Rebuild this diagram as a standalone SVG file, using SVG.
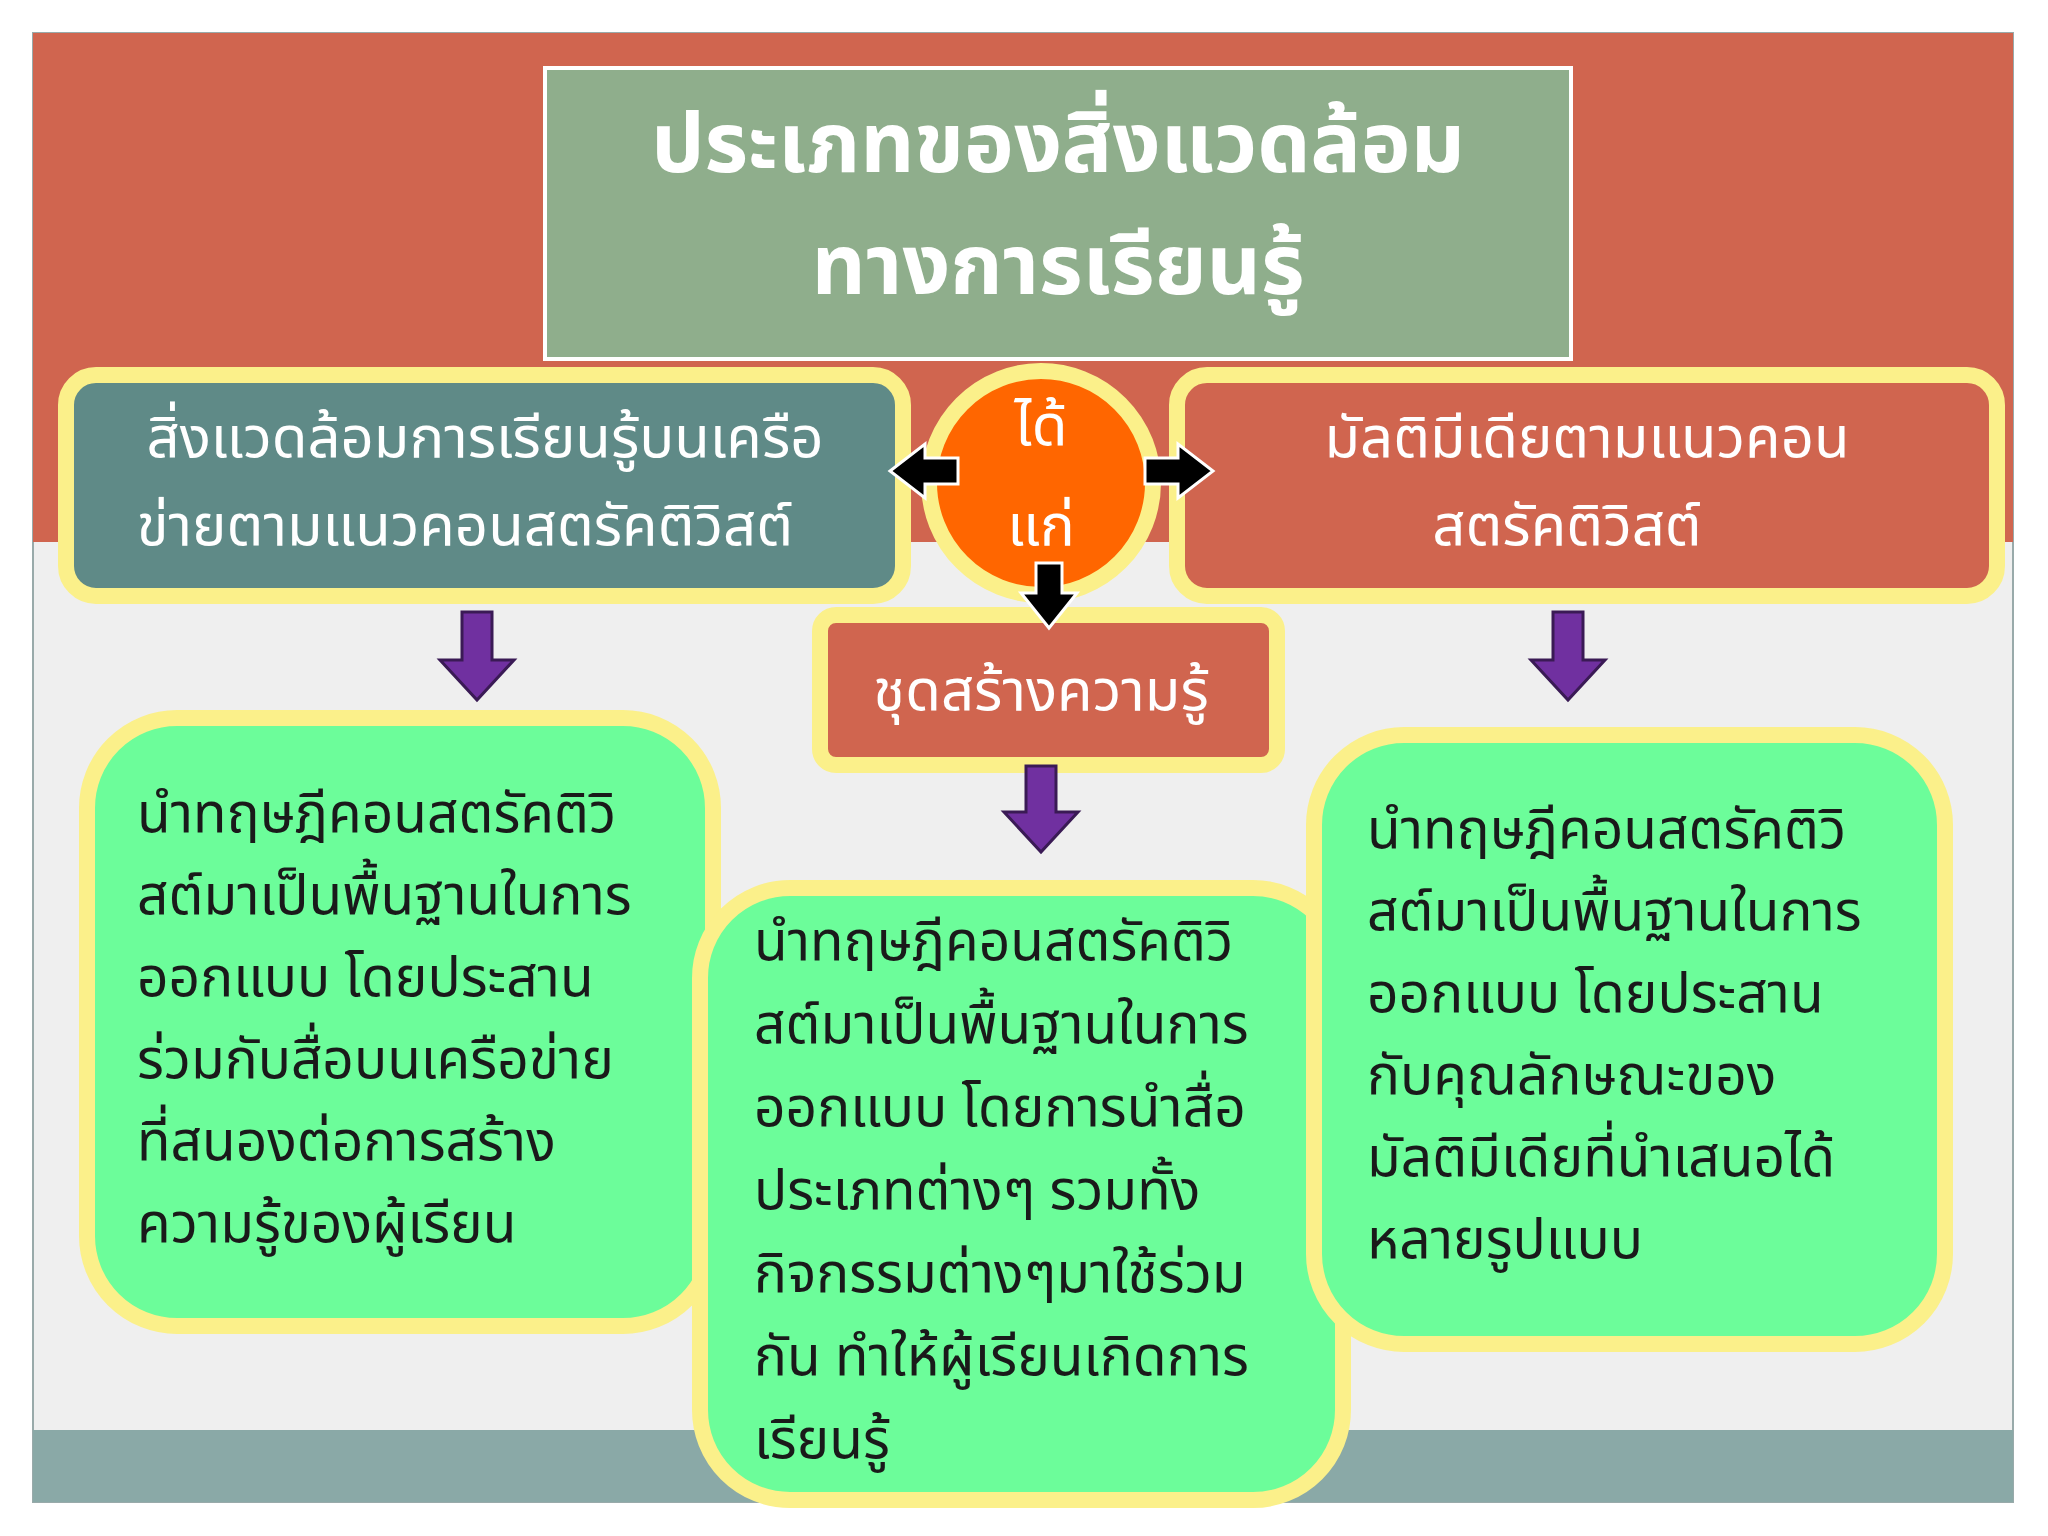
<svg xmlns="http://www.w3.org/2000/svg" width="2048" height="1536" viewBox="0 0 2048 1536">
<defs>
<style>
text{font-family:"Noto Sans Thai","Noto Sans","Liberation Sans",sans-serif;}
.w{fill:#fff;font-size:58px;text-anchor:middle;}
.t{fill:#fff;font-size:84px;font-weight:bold;text-anchor:middle;}
.b{fill:#1a1a1a;font-size:55px;}
.purple{fill:#7030a0;stroke:#3a1a55;stroke-width:3;}
.blk{fill:#000;stroke:#fff;stroke-width:3;}
</style>
</defs>
<rect width="2048" height="1536" fill="#fff"/>
<rect x="33" y="33" width="1980" height="1469" fill="#efefef" stroke="#9aa" stroke-width="2"/>
<rect x="33" y="33" width="1980" height="509" fill="#d0654f"/>
<rect x="33" y="1430" width="1980" height="72" fill="#8aa9a7"/>
<g id="title">
<rect x="545" y="68" width="1026" height="291" fill="#8fae8c" stroke="#fff" stroke-width="4"/>
<text class="t" x="1058" y="172">ประเภทของสิ่งแวดล้อม</text>
<text class="t" x="1058" y="294">ทางการเรียนรู้</text>
</g>
<g id="left-head">
<rect x="66" y="375" width="837" height="221" rx="30" fill="#5f8a87" stroke="#fbf08a" stroke-width="16"/>
<text class="w" x="485" y="457">สิ่งแวดล้อมการเรียนรู้บนเครือ</text>
<text class="w" x="465" y="545">ข่ายตามแนวคอนสตรัคติวิสต์</text>
</g>
<g id="right-head">
<rect x="1177" y="375" width="820" height="221" rx="30" fill="#d0654f" stroke="#fbf08a" stroke-width="16"/>
<text class="w" x="1587" y="457">มัลติมีเดียตามแนวคอน</text>
<text class="w" x="1567" y="545">สตรัคติวิสต์</text>
</g>
<g id="center-circle">
<circle cx="1041" cy="483" r="112" fill="#ff6600" stroke="#fbf08a" stroke-width="16"/>
<text class="w" x="1041" y="445">ได้</text>
<text class="w" x="1041" y="545">แก่</text>
</g>
<g id="mid-head">
<rect x="820" y="615" width="457" height="150" rx="16" fill="#d0654f" stroke="#fbf08a" stroke-width="16"/>
<text class="w" x="1041" y="710">ชุดสร้างความรู้</text>
</g>
<g id="left-body">
<rect x="87" y="718" width="626" height="608" rx="90" fill="#6cfd9a" stroke="#fbf08a" stroke-width="16"/>
<text class="b" x="137" y="832">นำทฤษฎีคอนสตรัคติวิ</text>
<text class="b" x="137" y="914">สต์มาเป็นพื้นฐานในการ</text>
<text class="b" x="137" y="996">ออกแบบ โดยประสาน</text>
<text class="b" x="137" y="1078">ร่วมกับสื่อบนเครือข่าย</text>
<text class="b" x="137" y="1160">ที่สนองต่อการสร้าง</text>
<text class="b" x="137" y="1242">ความรู้ของผู้เรียน</text>
</g>
<g id="mid-body">
<rect x="700" y="888" width="643" height="612" rx="90" fill="#6cfd9a" stroke="#fbf08a" stroke-width="16"/>
<text class="b" x="754" y="960">นำทฤษฎีคอนสตรัคติวิ</text>
<text class="b" x="754" y="1043">สต์มาเป็นพื้นฐานในการ</text>
<text class="b" x="754" y="1126">ออกแบบ โดยการนำสื่อ</text>
<text class="b" x="754" y="1209">ประเภทต่างๆ รวมทั้ง</text>
<text class="b" x="754" y="1292">กิจกรรมต่างๆมาใช้ร่วม</text>
<text class="b" x="754" y="1375">กัน ทำให้ผู้เรียนเกิดการ</text>
<text class="b" x="754" y="1458">เรียนรู้</text>
</g>
<g id="right-body">
<rect x="1314" y="735" width="631" height="609" rx="90" fill="#6cfd9a" stroke="#fbf08a" stroke-width="16"/>
<text class="b" x="1367" y="848">นำทฤษฎีคอนสตรัคติวิ</text>
<text class="b" x="1367" y="930">สต์มาเป็นพื้นฐานในการ</text>
<text class="b" x="1367" y="1012">ออกแบบ โดยประสาน</text>
<text class="b" x="1367" y="1094">กับคุณลักษณะของ</text>
<text class="b" x="1367" y="1176">มัลติมีเดียที่นำเสนอได้</text>
<text class="b" x="1367" y="1258">หลายรูปแบบ</text>
</g>
<g id="connectors">
<polygon class="blk" points="958,458 925,458 925,444 890,471 925,498 925,484 958,484"/>
<polygon class="blk" points="1145,458 1178,458 1178,444 1213,471 1178,498 1178,484 1145,484"/>
<polygon class="blk" points="1036,563 1062,563 1062,593 1077,593 1049,628 1021,593 1036,593"/>
<polygon class="purple" points="462,612 492,612 492,660 514,660 477,700 440,660 462,660"/>
<polygon class="purple" points="1553,612 1583,612 1583,660 1605,660 1568,700 1531,660 1553,660"/>
<polygon class="purple" points="1026,766 1056,766 1056,812 1078,812 1041,852 1004,812 1026,812"/>
</g>
</svg>
